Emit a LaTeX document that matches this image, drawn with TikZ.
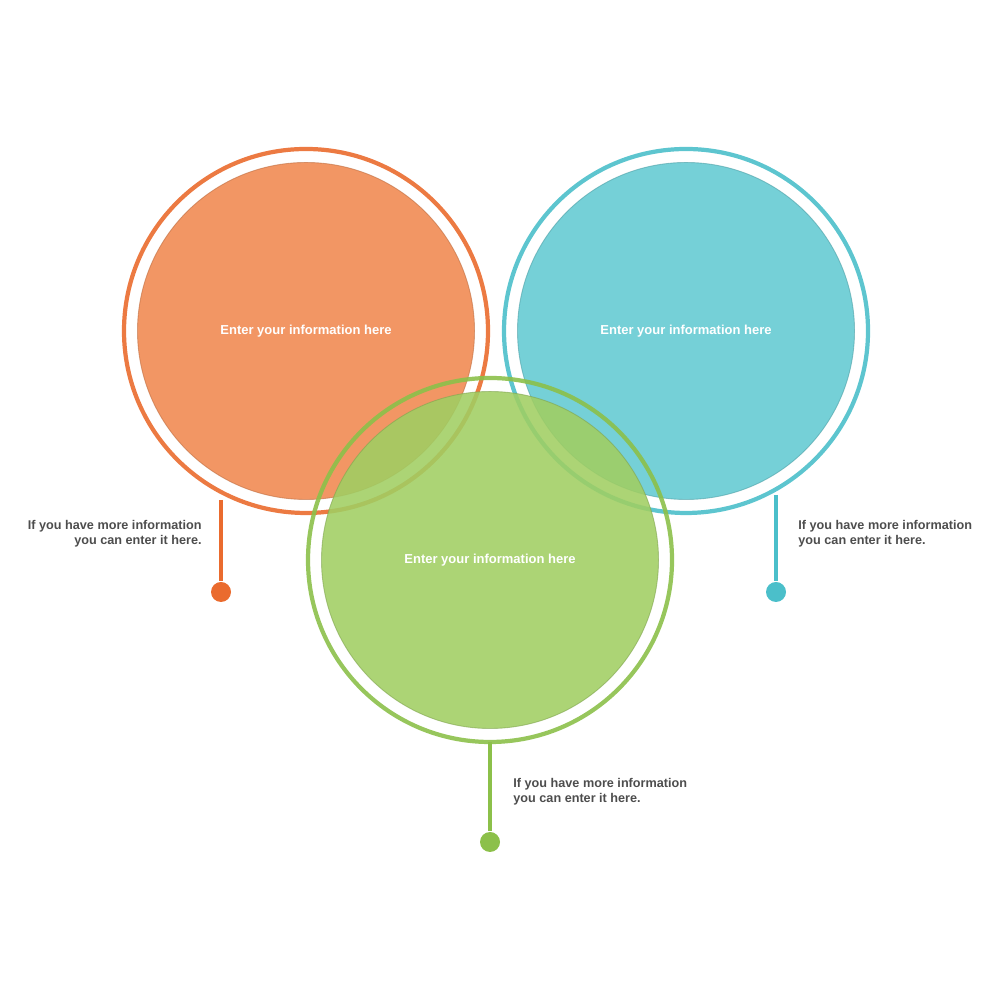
\documentclass[tikz,border=0pt]{standalone}
\usepackage{fontspec}
\setmainfont{Liberation Sans}
\definecolor{orangeRing}{HTML}{EA6B2E}
\definecolor{orangeFill}{HTML}{F0884F}
\definecolor{blueRing}{HTML}{4BBFCA}
\definecolor{blueFill}{HTML}{62C9D1}
\definecolor{greenRing}{HTML}{8CC04A}
\definecolor{greenFill}{HTML}{A0CE62}
\definecolor{noteText}{HTML}{4D4D4D}
\tikzset{
  ring/.style={draw=#1, line width=1.2pt, opacity=.9},
  disc/.style={fill=#1, draw=#1!80!black, line width=.25pt, fill opacity=.88, draw opacity=.6},
  stem/.style={draw=#1, line width=1.2pt},
  dot/.style={circle, fill=#1, inner sep=0pt, minimum size=.2cm},
  title/.style={text=white, font=\bfseries\fontsize{3.7}{4.4}\selectfont},
  note/.style={text=noteText, font=\bfseries\fontsize{3.6}{4.3}\selectfont, align=#1}
}
\begin{document}
\begin{tikzpicture}[x=1cm,y=1cm]
    \useasboundingbox (0,0) rectangle (10,10);

    \coordinate (O) at (3.06,6.69);
    \coordinate (B) at (6.86,6.69);
    \coordinate (G) at (4.90,4.40);

    % stems
    \node[dot=orangeRing] (od) at (2.21,4.08) {};
    \node[dot=blueRing] (bd) at (7.76,4.08) {};
    \node[dot=greenRing] (gd) at (4.90,1.58) {};
    \coordinate (ot) at (2.21,5.00);
    \coordinate (bt) at (7.76,5.05);
    \coordinate (gt) at (4.90,2.58);
    \draw[stem=orangeRing] (ot) -- (od);
    \draw[stem=blueRing] (bt) -- (bd);
    \draw[stem=greenRing] (gt) -- (gd);

    % circles
    \draw[ring=orangeRing] (O) circle (1.82);
    \fill[disc=orangeFill] (O) circle (1.685);
    \draw[ring=blueRing] (B) circle (1.82);
    \fill[disc=blueFill] (B) circle (1.685);
    \draw[ring=greenRing] (G) circle (1.82);
    \fill[disc=greenFill] (G) circle (1.685);

    \node[title] (ol) at (O) {Enter your information here};
    \node[title] (bl) at (B) {Enter your information here};
    \node[title] (gl) at (G) {Enter your information here};

    % notes
    \node[note=right, anchor=east] (on) at (2.14,4.66) {If you have more information\\you can enter it here.};
    \node[note=left, anchor=west] (bn) at (7.86,4.66) {If you have more information\\you can enter it here.};
    \node[note=left, anchor=west] (gn) at (5.01,2.08) {If you have more information\\you can enter it here.};
\end{tikzpicture}
\end{document}
